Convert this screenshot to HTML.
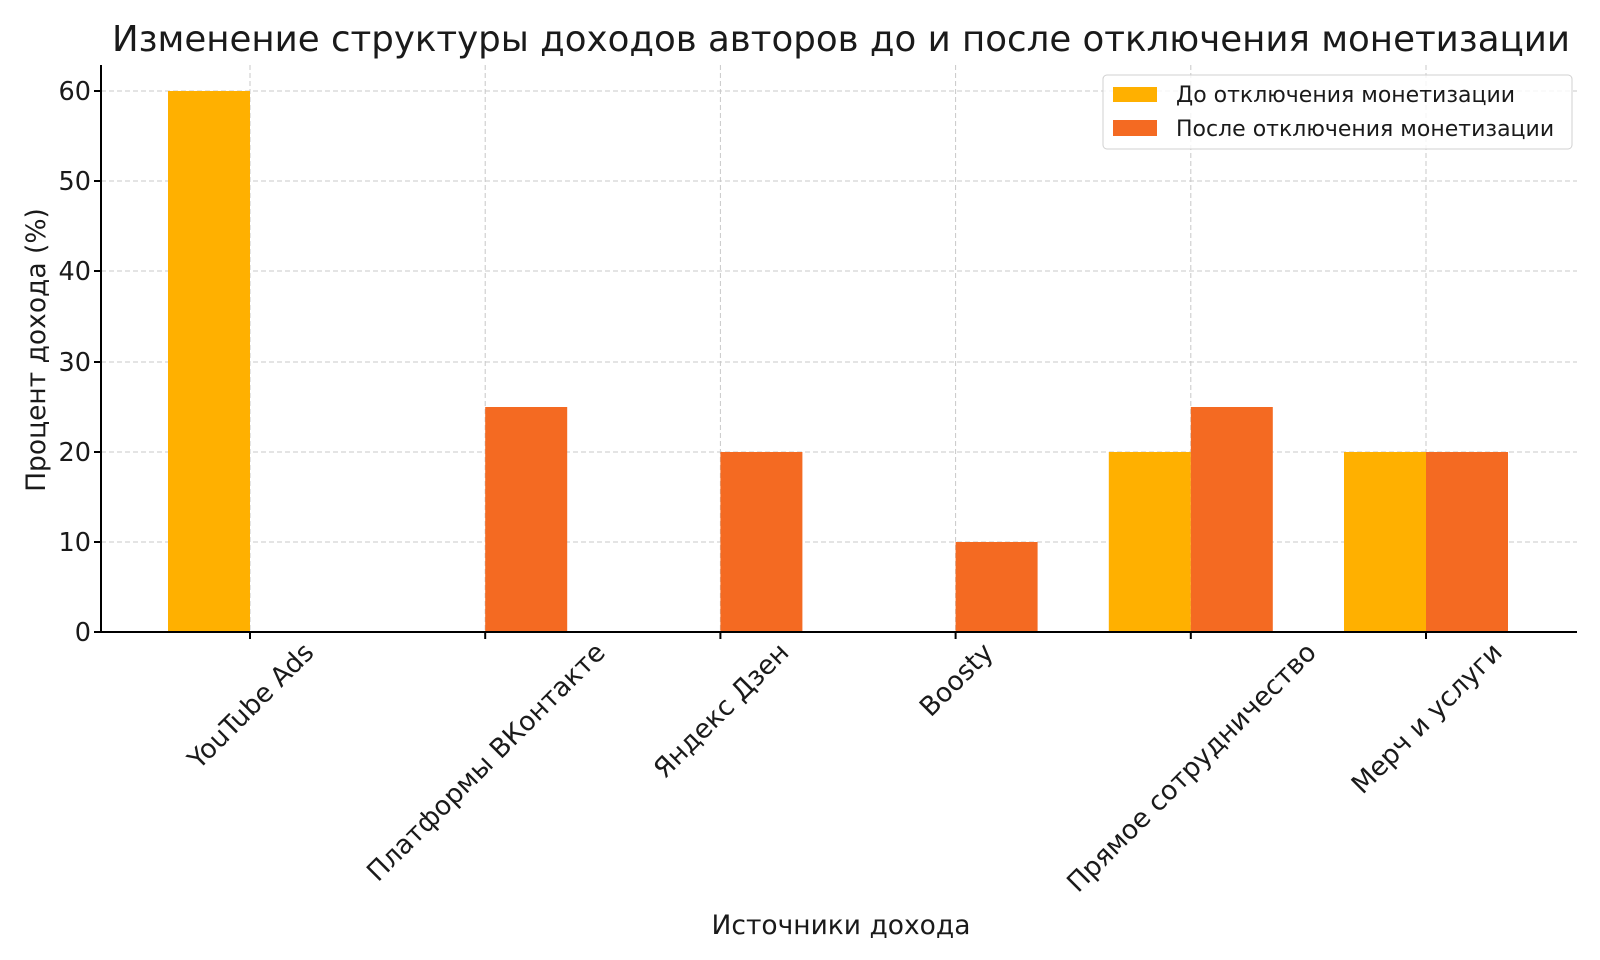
<!DOCTYPE html>
<html><head><meta charset="utf-8"><style>body{margin:0;background:#fff}svg{display:block}text{font-family:"DejaVu Sans","Liberation Sans",sans-serif;fill:#1a1a1a}</style></head>
<body>
<svg id="s" width="1600" height="960" xmlns="http://www.w3.org/2000/svg">
<text x="841" y="51" font-size="35.6" text-anchor="middle">Изменение структуры доходов авторов до и после отключения монетизации</text>
<g stroke="#c8c8c8" stroke-dasharray="5,3" stroke-width="1">
<line x1="101" x2="1577" y1="542" y2="542"/><line x1="101" x2="1577" y1="452" y2="452"/><line x1="101" x2="1577" y1="362" y2="362"/><line x1="101" x2="1577" y1="271" y2="271"/><line x1="101" x2="1577" y1="181" y2="181"/><line x1="101" x2="1577" y1="91" y2="91"/>
<line x1="250" x2="250" y1="65" y2="632"/><line x1="485.2" x2="485.2" y1="65" y2="632"/><line x1="720.4" x2="720.4" y1="65" y2="632"/><line x1="955.6" x2="955.6" y1="65" y2="632"/><line x1="1190.8" x2="1190.8" y1="65" y2="632"/><line x1="1426" x2="1426" y1="65" y2="632"/>
</g>
<g fill="#FFB000">
<rect x="168" y="91" width="82" height="541"/>
<rect x="1108.8" y="452" width="82" height="180"/>
<rect x="1344" y="452" width="82" height="180"/>
</g>
<g fill="#F46A22">
<rect x="485.2" y="407" width="82" height="225"/>
<rect x="720.4" y="452" width="82" height="180"/>
<rect x="955.6" y="542" width="82" height="90"/>
<rect x="1190.8" y="407" width="82" height="225"/>
<rect x="1426" y="452" width="82" height="180"/>
</g>
<g stroke="#000" stroke-width="2">
<line x1="101" x2="101" y1="65" y2="633"/><line x1="100" x2="1577" y1="632" y2="632"/>
<line x1="94" x2="101" y1="632" y2="632"/><line x1="94" x2="101" y1="542" y2="542"/><line x1="94" x2="101" y1="452" y2="452"/><line x1="94" x2="101" y1="362" y2="362"/><line x1="94" x2="101" y1="271" y2="271"/><line x1="94" x2="101" y1="181" y2="181"/><line x1="94" x2="101" y1="91" y2="91"/>
<line x1="250" x2="250" y1="632" y2="639"/><line x1="485.2" x2="485.2" y1="632" y2="639"/><line x1="720.4" x2="720.4" y1="632" y2="639"/><line x1="955.6" x2="955.6" y1="632" y2="639"/><line x1="1190.8" x2="1190.8" y1="632" y2="639"/><line x1="1426" x2="1426" y1="632" y2="639"/>
</g>
<g font-size="25.5" text-anchor="end">
<text x="91" y="641">0</text><text x="91" y="551">10</text><text x="91" y="461">20</text><text x="91" y="371">30</text><text x="91" y="280">40</text><text x="91" y="190">50</text><text x="91" y="100">60</text>
</g>
<g id="xl" font-size="26.5" text-anchor="middle">
<text data-x="250">YouTube Ads</text>
<text data-x="485.2">Платформы ВКонтакте</text>
<text data-x="720.4">Яндекс Дзен</text>
<text data-x="955.6">Boosty</text>
<text data-x="1190.8">Прямое сотрудничество</text>
<text data-x="1426">Мерч и услуги</text>
</g>
<text x="841" y="934" font-size="26.5" text-anchor="middle">Источники дохода</text>
<text transform="translate(45,350) rotate(-90)" font-size="26.5" text-anchor="middle">Процент дохода (%)</text>
<rect x="1103" y="75" width="469" height="74" rx="4" fill="#fff" fill-opacity="0.8" stroke="#d0d0d0"/>
<rect x="1113" y="87" width="44" height="15" fill="#FFB000"/>
<rect x="1113" y="120" width="44" height="16" fill="#F46A22"/>
<text x="1176" y="102" font-size="22">До отключения монетизации</text>
<text x="1176" y="136" font-size="22">После отключения монетизации</text>
</svg>
<script>
document.querySelectorAll('#xl text').forEach(function(t){
 var L=t.getComputedTextLength();var x=+t.getAttribute('data-x');
 var cy=637+(L+28)*0.7071/2;
 t.setAttribute('transform','translate('+x+','+cy+') rotate(-45)');
 t.setAttribute('y','10');
});
</script>
</body></html>
